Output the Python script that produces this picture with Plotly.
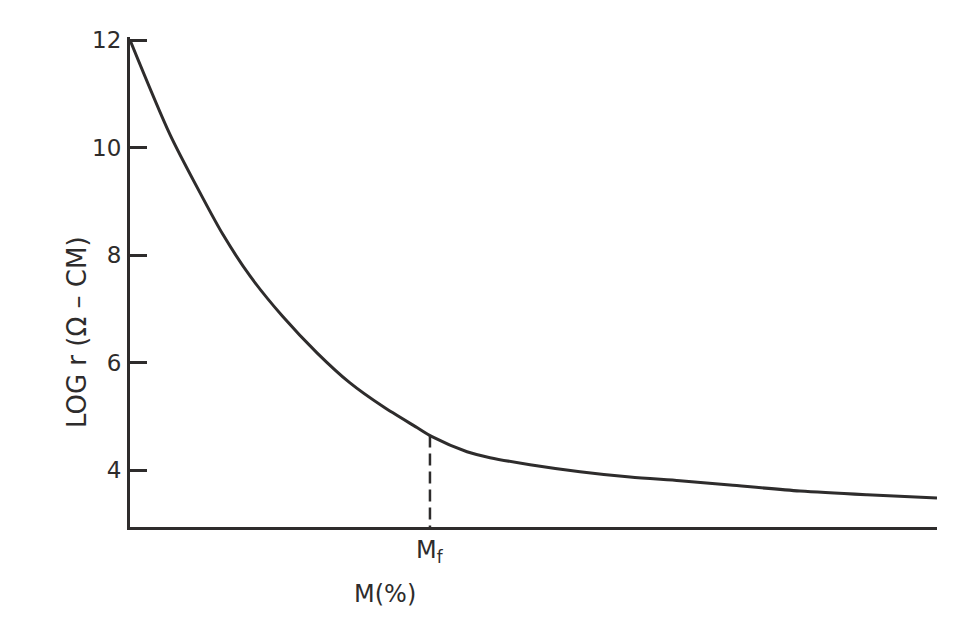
import plotly.graph_objects as go

# Curve (M in arbitrary % units, 0..100 across the axis)
m_values = [0.0, 4.96, 8.67, 11.52, 14.87, 18.96, 23.17, 27.26, 31.35, 35.56,
            37.42, 41.76, 44.61, 49.57, 55.76, 61.96, 68.15, 74.35, 83.02, 91.33, 100.0]
log_r = [12.0, 10.24, 9.16, 8.38, 7.61, 6.85, 6.18, 5.62, 5.18, 4.79,
         4.62, 4.34, 4.23, 4.10, 3.97, 3.87, 3.80, 3.72, 3.61, 3.54, 3.48]

y_ticks = [4, 6, 8, 10, 12]
y_tick_labels = ["4", "6", "8", "10", "12"]

mf_x = 37.17
mf_y = 4.64
y_min, y_max = 2.94, 12.056

INK = "#2e2c2c"
FONT = "DejaVu Sans"

fig = go.Figure()
fig.add_trace(go.Scatter(x=m_values, y=log_r, mode="lines",
                         line=dict(color=INK, width=3, shape="spline", smoothing=0.8),
                         showlegend=False, hoverinfo="skip"))
fig.add_trace(go.Scatter(x=[mf_x, mf_x], y=[mf_y, y_min], mode="lines",
                         line=dict(color=INK, width=2.5, dash="12px,6px"),
                         showlegend=False, hoverinfo="skip"))

fig.update_layout(
    width=962, height=626,
    margin=dict(l=130, r=25, t=37, b=99),
    paper_bgcolor="white", plot_bgcolor="white",
    font=dict(family=FONT, color=INK),
    xaxis=dict(range=[0, 100], showgrid=False, zeroline=False, showline=True,
               linecolor=INK, linewidth=3, showticklabels=False, ticks=""),
    yaxis=dict(range=[y_min, y_max], showgrid=False, zeroline=False, showline=True,
               linecolor=INK, linewidth=3, tickvals=y_ticks, ticktext=y_tick_labels,
               ticks="inside", ticklen=17, tickwidth=3, tickcolor=INK,
               tickfont=dict(size=23, color=INK, family=FONT), ticklabelstandoff=1),
    annotations=[
        dict(text="LOG r (Ω – CM)", xref="paper", yref="paper", x=-0.0655, y=0.398,
             xanchor="center", yanchor="middle",
             textangle=-90, showarrow=False, font=dict(size=26, color=INK, family=FONT)),
        dict(text="M<sub>f</sub>", xref="x", yref="paper", x=mf_x, y=-0.0143,
             xanchor="center", yanchor="top", showarrow=False,
             font=dict(size=24, color=INK, family=FONT)),
        dict(text="M(%)", xref="x", yref="paper", x=31.6, y=-0.137,
             xanchor="center", yanchor="middle", showarrow=False,
             font=dict(size=24, color=INK, family=FONT)),
    ],
)

fig.write_html("out.html")
